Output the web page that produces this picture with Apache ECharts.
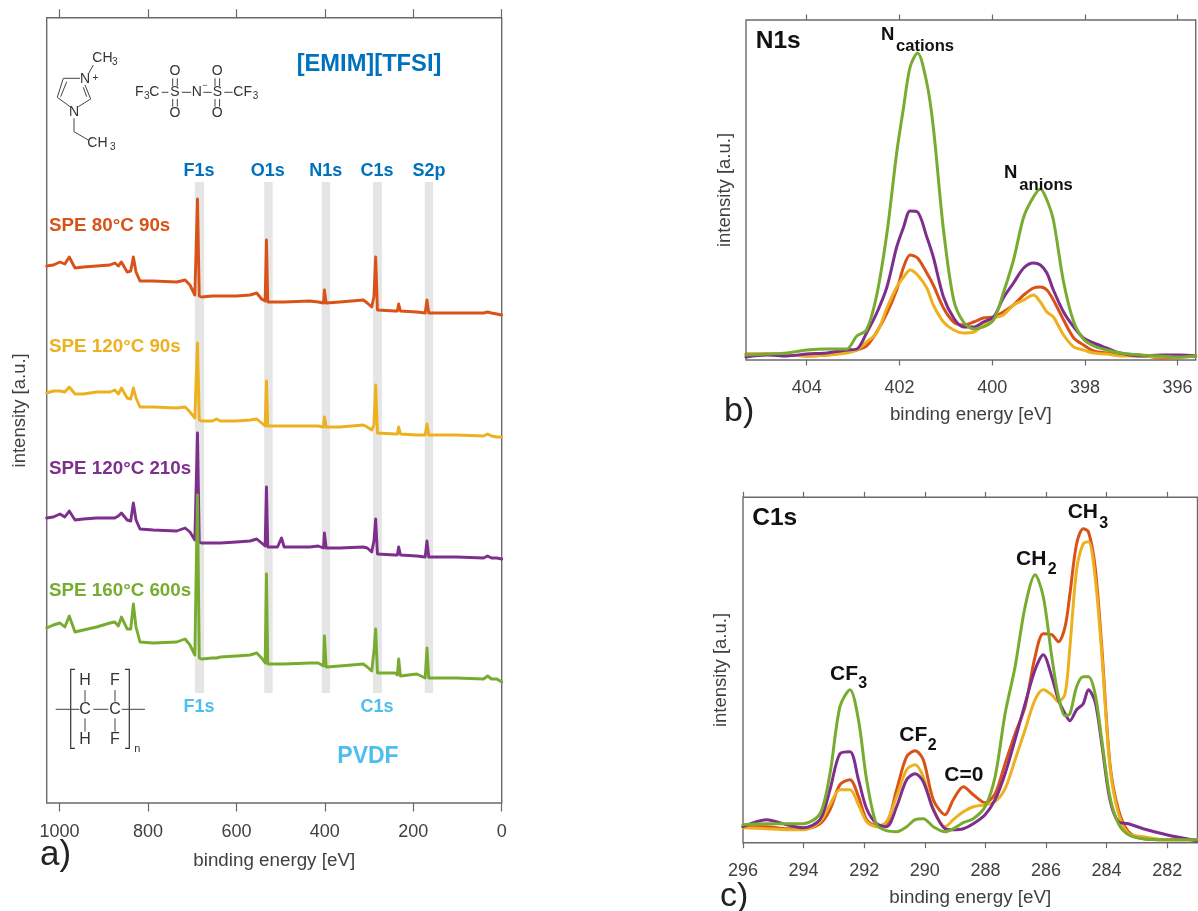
<!DOCTYPE html>
<html>
<head>
<meta charset="utf-8">
<style>html,body{margin:0;padding:0;background:#fff}#c{width:1198px;height:911px}</style>
<script src="https://cdn.jsdelivr.net/npm/echarts@6/dist/echarts.min.js"></script>
</head>
<body>
<div id="c"></div>
<script>
// ---------- panel a: survey spectra ----------
var surveyEnergy = [1029,1014,999,988,978,965,946,916,886,875,867,860,847,839,833,827,818,788,735,716,705,694,690,688,684,679,654,645,636,600,569,554,543,535,532,529,507,503,498,492,434,415,403,401,397,366,313,304,294,289,285,281,241,236,233,229,192,173,169,165,102,41,32,23,11,0];
var surveySpe80 = [537,538,541,539,546,535,536,537,538,540,537,541,531,532,546,531,522,522,521,523,518,508,507,604,507,506,507,507,507,507,508,510,504,502,563,501,501,501,501,501,502,501,500,513,500,501,503,500,496,506,546,493,492,492,499,492,491,490,503,490,490,490,491,490,489,488];
var surveySpe120a = [410,412,412,411,416,409,409,411,411,413,409,415,405,404,415,405,396,396,395,396,391,385,384,460,383,382,382,384,382,382,383,384,380,377,422,377,377,377,377,377,377,377,376,386,376,376,378,376,373,378,418,370,369,369,376,369,368,368,379,368,368,367,369,367,366,366];
var surveySpe120b = [285,286,289,286,292,283,284,285,285,285,287,290,283,282,300,283,274,273,272,275,271,263,261,370,261,260,260,260,260,261,262,264,260,257,316,256,256,256,265,256,256,257,255,270,255,255,256,255,251,262,284,249,248,248,256,248,247,246,262,246,246,245,247,245,245,244];
var surveySpe160 = [175,178,180,176,187,171,173,176,180,181,177,186,174,174,199,176,161,160,161,164,158,148,146,308,145,144,145,145,146,147,148,150,145,140,229,139,139,139,139,139,140,140,137,167,136,137,139,136,132,151,174,130,130,128,144,127,129,125,155,125,125,124,127,124,124,121];
var surveyTicks = [0,200,400,600,800,1000];
var bandRanges = [[694,673],[537,518],[407,388],[291,271],[174,155]];

// ---------- panel b: N1s ----------
var n1sEnergy = [405.31,404.86,404.43,404,403.57,403.14,402.92,402.71,402.49,402.27,402.06,401.91,401.77,401.61,401.41,401.27,401.05,400.83,400.62,400.40,400.19,399.97,399.76,399.54,399.32,399.11,398.96,398.82,398.68,398.46,398.24,398.03,397.81,397.53,397.24,396.81,396.37,395.94,395.61];
var n1sSpe80 = [6,6,5,4,5,8,10,14,28,47,70,93,105,102,87,75,52,38,35,38,42,43,48,55,65,72,73,70,60,40,22,15,9,7,6,5,2,3,4];
var n1sSpe120a = [5,6,5,4,5,7,10,18,27,52,73,83,90,85,72,55,38,30,27,28,35,42,45,55,60,65,58,48,43,25,13,10,7,6,4,4,3,3,4];
var n1sSpe120b = [3,5,4,6,7,10,11,27,47,73,113,133,149,148,123,103,63,42,33,33,38,43,62,77,92,97,95,87,70,48,33,22,17,12,7,4,5,5,4];
var n1sSpe160 = [5,6,7,10,11,11,24,30,65,127,207,253,293,307,277,233,130,60,38,31,33,40,67,100,143,163,171,160,140,78,38,21,14,10,7,5,4,3,4];
var n1sTicks = [396,398,400,402,404];

// ---------- panel c: C1s ----------
var c1sEnergy = [296,295.22,294.56,294.01,293.46,293.13,292.80,292.47,292.19,291.92,291.59,291.26,290.93,290.60,290.32,290.05,289.72,289.33,289.06,288.73,288.40,288.01,287.68,287.35,287.02,286.69,286.36,286.09,285.81,285.59,285.37,285.21,284.99,284.77,284.60,284.38,284.16,283.89,283.61,283.28,282.79,282.02,281.03];
var c1sSpe80 = [16,16,14,14,19,33,58,63,46,23,17,19,53,86,92,83,43,28,43,56,48,40,49,79,109,136,186,209,208,201,216,249,299,314,311,276,196,79,33,11,4,3,3];
var c1sSpe120a = [15,14,13,13,21,38,53,53,38,21,16,21,46,73,78,66,34,16,23,31,36,38,41,54,83,113,143,153,148,141,149,196,273,299,301,266,189,76,29,9,6,3,3];
var c1sSpe120b = [16,23,18,15,23,53,89,91,63,34,19,16,36,63,69,61,33,14,13,14,19,28,43,69,103,139,173,188,166,143,129,122,133,139,153,141,99,43,21,19,14,8,2];
var c1sSpe160 = [18,19,19,19,29,69,136,153,123,63,18,12,11,16,23,24,16,11,14,20,24,36,66,129,176,236,268,246,186,146,127,129,156,166,166,149,103,46,19,8,4,3,3];
var c1sTicks = [282,284,286,288,290,292,294,296];

var FONT = '"Liberation Sans", Arial, sans-serif';
var ORANGE = '#D95319', YELLOW = '#EDB120', PURPLE = '#7E2F8E', GREEN = '#77AC30';
var BLUE = '#0072BD', LIGHT = '#4DBEEE';
var BOX = '#6a6a6a', TXT = '#404040';

function zip(xs, ys) { return xs.map(function (x, i) { return [x, ys[i]]; }); }

function lineSeries(name, idx, xs, ys, color, width, smooth) {
  return {
    name: name, type: 'line', xAxisIndex: idx, yAxisIndex: idx, z: 3,
    data: zip(xs, ys), showSymbol: false, symbol: 'none', smooth: smooth || false,
    lineStyle: { color: color, width: width, join: 'round', cap: 'round' },
    emphasis: { disabled: true }, silent: true, animation: false
  };
}

var panels = [
  { left: 46.7, top: 17.7, width: 455, height: 785.3, min: 0, max: 1029, ymax: 785.3, ticks: surveyTicks, tick: 8.5, margin: 20, nameGap: 48, yGap: 17 },
  { left: 746, top: 20, width: 449.7, height: 340, min: 395.61, max: 405.31, ymax: 340, ticks: n1sTicks, tick: 5.5, margin: 19, nameGap: 45, yGap: 12 },
  { left: 743, top: 497.3, width: 454.5, height: 345.4, min: 281, max: 296, ymax: 345.4, ticks: c1sTicks, tick: 5.5, margin: 19, nameGap: 46, yGap: 13 }
];

var grids = [], xAxes = [], yAxes = [];
panels.forEach(function (p, i) {
  grids.push({ left: p.left, top: p.top, width: p.width, height: p.height, show: true, borderColor: BOX, borderWidth: 1.4, backgroundColor: 'transparent', containLabel: false });
  xAxes.push({
    type: 'value', gridIndex: i, position: 'bottom', inverse: true, min: p.min, max: p.max, scale: true,
    axisLine: { show: false }, splitLine: { show: false },
    axisTick: { show: true, length: p.tick, inside: false, customValues: p.ticks, lineStyle: { color: BOX, width: 1.2 } },
    axisLabel: { show: true, margin: p.margin, customValues: p.ticks, color: TXT, fontSize: 18, fontFamily: FONT, hideOverlap: false, formatter: function (v) { return String(v); } },
    name: 'binding energy [eV]', nameLocation: 'middle', nameGap: p.nameGap,
    nameTextStyle: { color: TXT, fontSize: 18.8, fontFamily: FONT }
  });
});
panels.forEach(function (p, i) {
  xAxes.push({
    type: 'value', gridIndex: i, position: 'top', inverse: true, min: p.min, max: p.max, scale: true,
    axisLine: { show: false }, splitLine: { show: false },
    axisTick: { show: true, length: p.tick, inside: false, customValues: p.ticks, lineStyle: { color: BOX, width: 1.2 } },
    axisLabel: { show: false }
  });
  yAxes.push({
    type: 'value', gridIndex: i, min: 0, max: p.ymax, scale: true,
    axisLine: { show: false }, axisTick: { show: false }, axisLabel: { show: false }, splitLine: { show: false },
    name: 'intensity [a.u.]', nameLocation: 'middle', nameGap: p.yGap,
    nameTextStyle: { color: TXT, fontSize: 18.5, fontFamily: FONT }
  });
});

var series = [{
  name: 'bands', type: 'line', xAxisIndex: 0, yAxisIndex: 0, z: 1, data: [], silent: true, animation: false,
  markArea: {
    silent: true, animation: false,
    itemStyle: { color: '#E5E5E5', opacity: 1 },
    label: { show: false },
    data: bandRanges.map(function (b) { return [{ coord: [b[0], 110] }, { coord: [b[1], 621] }]; })
  }
}];
var LA = 2.9, LB = 3, SM = 0.3;
series.push(lineSeries('SPE 80°C 90s', 0, surveyEnergy, surveySpe80, ORANGE, LA));
series.push(lineSeries('SPE 120°C 90s', 0, surveyEnergy, surveySpe120a, YELLOW, LA));
series.push(lineSeries('SPE 120°C 210s', 0, surveyEnergy, surveySpe120b, PURPLE, LA));
series.push(lineSeries('SPE 160°C 600s', 0, surveyEnergy, surveySpe160, GREEN, LA));
series.push(lineSeries('SPE 80°C 90s', 1, n1sEnergy, n1sSpe80, ORANGE, LB, SM));
series.push(lineSeries('SPE 120°C 90s', 1, n1sEnergy, n1sSpe120a, YELLOW, LB, SM));
series.push(lineSeries('SPE 120°C 210s', 1, n1sEnergy, n1sSpe120b, PURPLE, LB, SM));
series.push(lineSeries('SPE 160°C 600s', 1, n1sEnergy, n1sSpe160, GREEN, LB, SM));
series.push(lineSeries('SPE 80°C 90s', 2, c1sEnergy, c1sSpe80, ORANGE, LB, SM));
series.push(lineSeries('SPE 120°C 90s', 2, c1sEnergy, c1sSpe120a, YELLOW, LB, SM));
series.push(lineSeries('SPE 120°C 210s', 2, c1sEnergy, c1sSpe120b, PURPLE, LB, SM));
series.push(lineSeries('SPE 160°C 600s', 2, c1sEnergy, c1sSpe160, GREEN, LB, SM));

// ---------- annotations ----------
var g = [];
function T(text, x, y, size, color, bold, align) {
  g.push({
    type: 'text', silent: true, z: 10,
    style: { x: x, y: y, text: text, fill: color, textAlign: align || 'left', textVerticalAlign: 'middle',
      font: (bold ? 'bold ' : '') + size + 'px ' + FONT }
  });
}
function L(x1, y1, x2, y2) {
  g.push({ type: 'line', silent: true, z: 10, shape: { x1: x1, y1: y1, x2: x2, y2: y2 }, style: { stroke: '#444', lineWidth: 1 } });
}
function P(points) {
  g.push({ type: 'polyline', silent: true, z: 10, shape: { points: points }, style: { stroke: '#333', lineWidth: 1.2, fill: 'none' } });
}

// panel a text
T('[EMIM][TFSI]', 369, 64, 23.7, BLUE, true, 'center');
[['F1s', 199], ['O1s', 267.7], ['N1s', 325.7], ['C1s', 377], ['S2p', 429]].forEach(function (a) { T(a[0], a[1], 171, 18, BLUE, true, 'center'); });
T('SPE 80°C 90s', 49, 225.7, 18.8, ORANGE, true);
T('SPE 120°C 90s', 49, 347.3, 18.8, YELLOW, true);
T('SPE 120°C 210s', 49, 469.3, 18.8, PURPLE, true);
T('SPE 160°C 600s', 49, 590.7, 18.8, GREEN, true);
T('F1s', 199, 706.7, 18, LIGHT, true, 'center');
T('C1s', 377, 706.7, 18, LIGHT, true, 'center');
T('PVDF', 368, 757, 23, LIGHT, true, 'center');
T('a)', 40, 855, 35, '#222', false);
T('b)', 724, 412, 34, '#222', false);
T('c)', 720, 897, 34, '#222', false);

// panel b text
T('N1s', 755.7, 41.7, 24.5, '#111', true);
T('N', 881, 35, 18.5, '#111', true);
T('cations', 896, 46, 16.6, '#111', true);
T('N', 1004, 173.3, 18.5, '#111', true);
T('anions', 1019.3, 185.3, 16.6, '#111', true);

// panel c text
T('C1s', 752.3, 518.3, 24.5, '#111', true);
T('CF', 830, 674, 21, '#111', true);
T('3', 858.3, 684, 16, '#111', true);
T('CF', 899.3, 735, 21, '#111', true);
T('2', 927.7, 745.7, 16, '#111', true);
T('C=0', 944.3, 775.7, 21, '#111', true);
T('CH', 1016, 559, 21, '#111', true);
T('2', 1047.7, 570, 16, '#111', true);
T('CH', 1067.7, 512.3, 21, '#111', true);
T('3', 1099.3, 523.3, 16, '#111', true);

// [EMIM] cation structure
var SC = '#333';
T('CH', 92.3, 58, 14, SC); T('3', 112, 62, 10, SC);
T('N', 85, 79.3, 14, SC, false, 'center'); T('+', 95.3, 78.7, 10, SC, false, 'center');
T('N', 74, 111.7, 14, SC, false, 'center');
T('CH', 87.3, 143.3, 14, SC); T('3', 110, 147, 10, SC);
L(80, 78.3, 63.3, 78.3); L(63.3, 78.3, 57.3, 97.3); L(66.7, 81.7, 60.7, 96.7);
L(57.3, 97.3, 70, 106.7); L(78.3, 106.7, 90.7, 99); L(90.7, 99, 85, 85); L(86.7, 96.7, 83.3, 87.3);
L(88.3, 74, 93.3, 65); L(74, 118.3, 74, 131.7); L(74, 131.7, 88.3, 140);

// [TFSI] anion structure
T('F', 135, 92.3, 14, SC); T('3', 144, 96, 10, SC); T('C', 149.3, 92.3, 14, SC);
L(161.7, 92.3, 168.3, 92.3);
T('S', 175, 92.3, 14, SC, false, 'center');
T('O', 175, 71, 14, SC, false, 'center'); T('O', 175, 113.3, 14, SC, false, 'center');
L(172.7, 78.3, 172.7, 86); L(177.3, 78.3, 177.3, 86); L(172.7, 99, 172.7, 106.7); L(177.3, 99, 177.3, 106.7);
L(181.7, 92.3, 191, 92.3);
T('N', 196.7, 92.3, 14, SC, false, 'center'); T('−', 205, 86, 9, SC, false, 'center');
L(203.3, 92.3, 211.7, 92.3);
T('S', 217.3, 92.3, 14, SC, false, 'center');
T('O', 217.3, 71, 14, SC, false, 'center'); T('O', 217.3, 113.3, 14, SC, false, 'center');
L(215, 78.3, 215, 86); L(219.6, 78.3, 219.6, 86); L(215, 99, 215, 106.7); L(219.6, 99, 219.6, 106.7);
L(224.3, 92.3, 232.7, 92.3);
T('CF', 233.3, 92.3, 14, SC); T('3', 252.7, 96, 10, SC);

// PVDF structure
P([[75, 669.3], [70.7, 669.3], [70.7, 748.3], [75, 748.3]]);
P([[125, 669.3], [129.3, 669.3], [129.3, 748.3], [125, 748.3]]);
L(55.7, 709.3, 79.3, 709.3); L(93.3, 709.3, 108.3, 709.3); L(121.7, 709.3, 145, 709.3);
T('C', 85, 710, 16, SC, false, 'center'); T('C', 115, 710, 16, SC, false, 'center');
T('H', 85, 680.7, 16, SC, false, 'center'); T('F', 115, 680.7, 16, SC, false, 'center');
T('H', 85, 739.3, 16, SC, false, 'center'); T('F', 115, 739.3, 16, SC, false, 'center');
L(85, 690, 85, 701.7); L(85, 718.3, 85, 731.7); L(115, 690, 115, 701.7); L(115, 718.3, 115, 731.7);
T('n', 137.3, 749.3, 11, SC, false, 'center');

var chart = echarts.init(document.getElementById('c'), null, { renderer: 'canvas', width: 1198, height: 911 });
chart.setOption({
  animation: false, backgroundColor: '#fff',
  grid: grids, xAxis: xAxes, yAxis: yAxes, series: series, graphic: { elements: g }
});
</script>
</body>
</html>
